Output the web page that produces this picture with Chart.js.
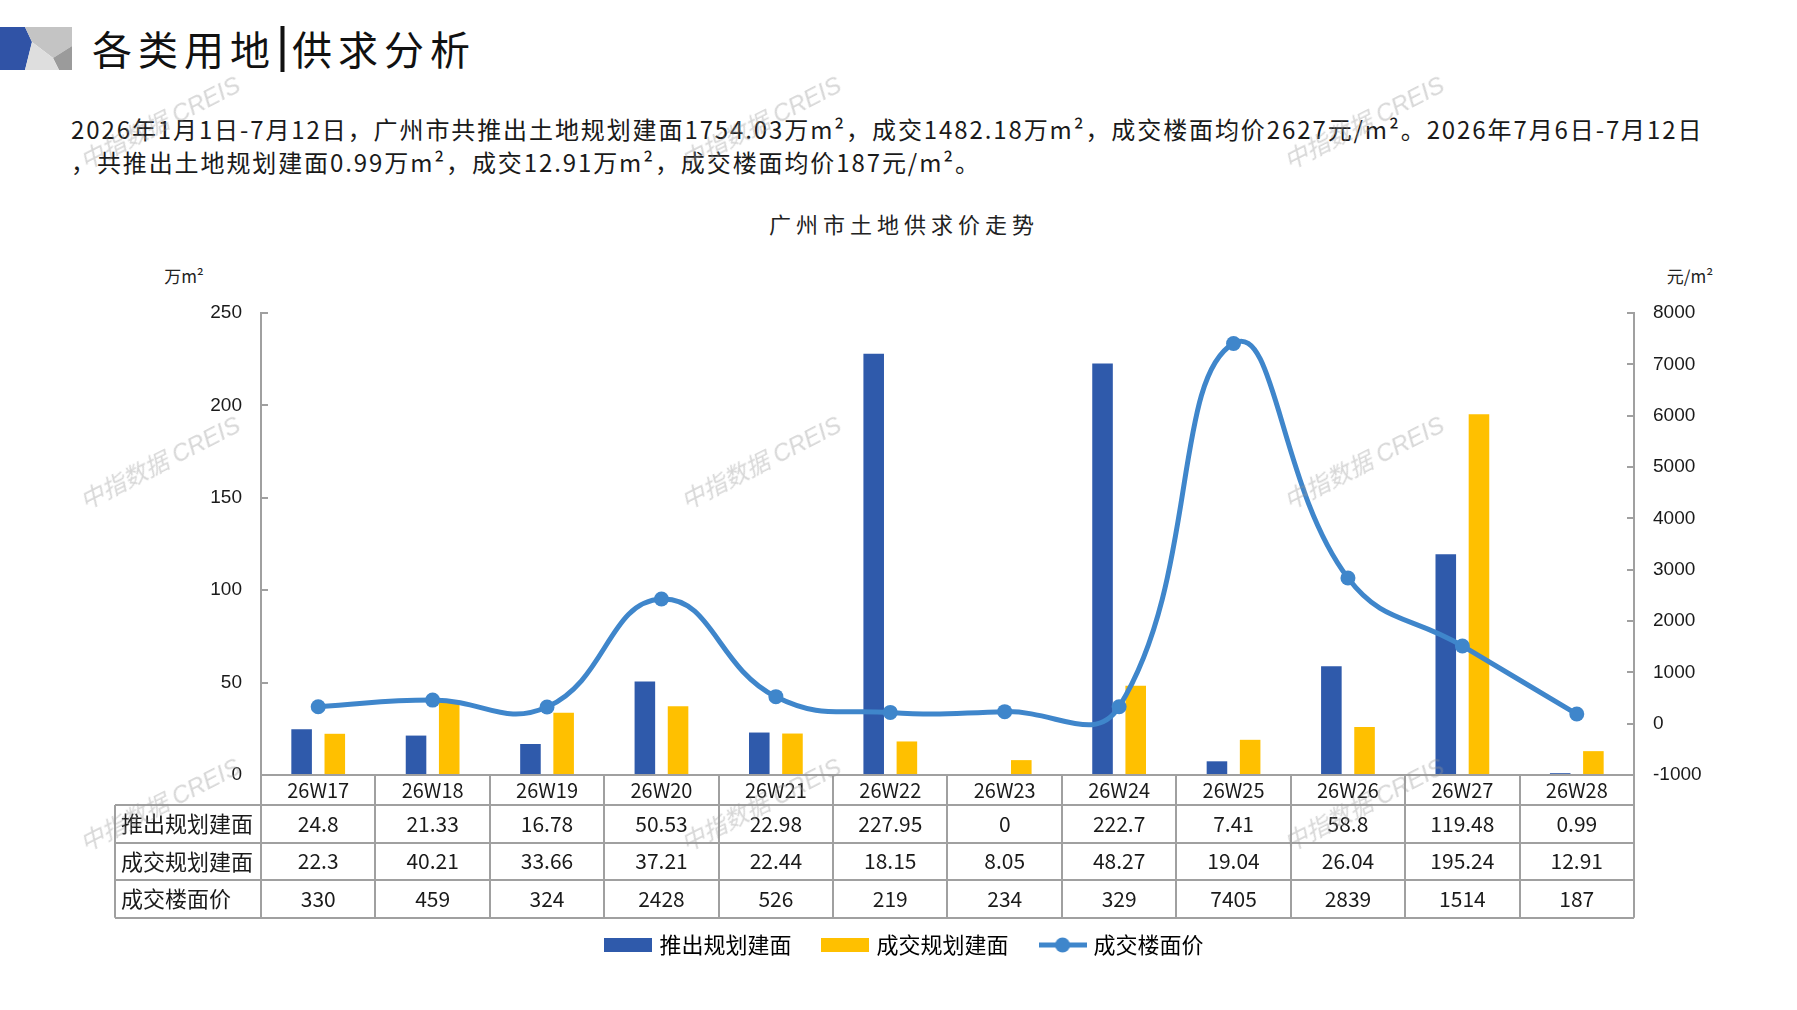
<!DOCTYPE html>
<html><head><meta charset="utf-8">
<script src="https://cdn.jsdelivr.net/npm/chart.js@4.4.1/dist/chart.umd.min.js"></script>
<style>
html,body{margin:0;padding:0;background:#fff;}
body{width:1797px;height:1010px;position:relative;overflow:hidden;font-family:'Noto Sans CJK SC',sans-serif;color:#1a1a1a;}
#c{position:absolute;left:0;top:0;}
.abs{position:absolute;white-space:nowrap;line-height:1;}
.sub{font-size:24px;letter-spacing:1.9px;color:#1a1a1a;}
.wm{position:absolute;white-space:nowrap;font-family:'Liberation Sans','Noto Sans CJK SC',sans-serif;font-size:24px;color:rgba(150,150,150,0.38);transform:translate(-50%,-50%) rotate(-27deg);pointer-events:none;font-style:italic;}
</style></head>
<body>
<svg class="abs" style="left:0;top:27px" width="72" height="43" viewBox="0 27 72 43">
  <polygon points="0,27 25,27 32,42 25,70 0,70" fill="#3053A6"/>
  <polygon points="25,27 72,27 72,46 53,58 32,42" fill="#C4C4C4"/>
  <polygon points="53,58 72,46 72,70 59,70" fill="#9B9B9B"/>
  <polygon points="32,42 53,58 59,70 25,70" fill="#DEDEDE"/>
</svg>
<div class="abs" style="left:92px;top:23px;font-size:40px;letter-spacing:6px;color:#111;">各类用地<span style="font-family:'Liberation Sans';font-size:50px;position:relative;top:-3px;letter-spacing:3px;">|</span>供求分析</div>
<div class="abs sub" style="left:71px;top:117px">2026年1月1日-7月12日，广州市共推出土地规划建面1754.03万m²，成交1482.18万m²，成交楼面均价2627元/m²。2026年7月6日-7月12日</div>
<div class="abs sub" style="left:71px;top:150px">，共推出土地规划建面0.99万m²，成交12.91万m²，成交楼面均价187元/m²。</div>
<div class="abs" style="left:904px;top:223px;transform:translate(-50%,-50%);font-size:22px;letter-spacing:5px;color:#222;">广州市土地供求价走势</div>
<div class="abs" style="left:184px;top:275px;transform:translate(-50%,-50%);font-size:17px;color:#222;">万m²</div>
<div class="abs" style="left:1690px;top:275px;transform:translate(-50%,-50%);font-size:17px;color:#222;">元/m²</div>
<canvas id="c" width="1797" height="1010"></canvas>
<div id="wms"></div>
<script>
// ---- data ----
const categories = ['26W17','26W18','26W19','26W20','26W21','26W22','26W23','26W24','26W25','26W26','26W27','26W28'];
const supplyArea = [24.8, 21.33, 16.78, 50.53, 22.98, 227.95, 0, 222.7, 7.41, 58.8, 119.48, 0.99];
const dealArea   = [22.3, 40.21, 33.66, 37.21, 22.44, 18.15, 8.05, 48.27, 19.04, 26.04, 195.24, 12.91];
const dealPrice  = [330, 459, 324, 2428, 526, 219, 234, 329, 7405, 2839, 1514, 187];
const leftTicks  = [0, 50, 100, 150, 200, 250];
const rightTicks = [-1000, 0, 1000, 2000, 3000, 4000, 5000, 6000, 7000, 8000];
const seriesNames = ['推出规划建面', '成交规划建面', '成交楼面价'];

const BLUE = '#2F5AAB', YELLOW = '#FFC000', LINE = '#3F86CB', GRID = '#A0A0A0';

// watermarks
const wmX = [159, 760, 1363], wmY = [121, 461, 803];
const wmBox = document.getElementById('wms');
wmY.forEach(y => wmX.forEach(x => {
  const d = document.createElement('div');
  d.className = 'wm'; d.style.left = x + 'px'; d.style.top = y + 'px';
  d.textContent = '中指数据 CREIS';
  wmBox.appendChild(d);
}));

function symBar(color) {
  const c = document.createElement('canvas'); c.width = 48; c.height = 14;
  const g = c.getContext('2d'); g.fillStyle = color; g.fillRect(0, 0, 48, 14); return c;
}
function symLine(color) {
  const c = document.createElement('canvas'); c.width = 48; c.height = 16;
  const g = c.getContext('2d'); g.strokeStyle = color; g.lineWidth = 5;
  g.beginPath(); g.moveTo(0, 8); g.lineTo(48, 8); g.stroke();
  g.fillStyle = color; g.beginPath(); g.arc(24, 8, 7.5, 0, Math.PI * 2); g.fill(); return c;
}
const legendSyms = [symBar(BLUE), symBar(YELLOW), symLine(LINE)];

const CJK = "'Noto Sans CJK SC', sans-serif";
const rows = [
  {label: seriesNames[0], values: supplyArea},
  {label: seriesNames[1], values: dealArea},
  {label: seriesNames[2], values: dealPrice},
];

const tablePlugin = {
  id: 'dataTable',
  afterDraw(chart) {
    const {ctx, chartArea: ca, scales: {x}} = chart;
    const half = (x.getPixelForValue(1) - x.getPixelForValue(0)) / 2;
    const tableLeft = 115;
    const r1 = ca.bottom + 30;          // bottom of category row
    const rh = 37.6;
    const bottoms = [r1, r1 + rh, r1 + 2 * rh, r1 + 3 * rh];
    const tb = bottoms[3];
    ctx.save();
    ctx.strokeStyle = GRID; ctx.lineWidth = 2;
    ctx.beginPath();
    for (let i = 0; i <= categories.length; i++) {
      const xb = Math.round((i < categories.length ? x.getPixelForValue(i) - half : x.getPixelForValue(categories.length - 1) + half));
      ctx.moveTo(xb, ca.bottom); ctx.lineTo(xb, tb);
    }
    ctx.moveTo(tableLeft, r1); ctx.lineTo(tableLeft, tb);
    bottoms.forEach(yb => { ctx.moveTo(tableLeft, Math.round(yb)); ctx.lineTo(ca.right, Math.round(yb)); });
    ctx.stroke();
    ctx.fillStyle = '#1a1a1a';
    ctx.textBaseline = 'middle';
    rows.forEach((row, ri) => {
      const yc = bottoms[ri] + rh / 2;
      ctx.font = '22px ' + CJK;
      ctx.textAlign = 'left';
      ctx.fillText(row.label, tableLeft + 6, yc);
      ctx.font = '21px ' + CJK;
      ctx.textAlign = 'center';
      row.values.forEach((v, i) => ctx.fillText(String(v), x.getPixelForValue(i), yc));
    });
    ctx.restore();
  }
};

new Chart(document.getElementById('c'), {
  data: {
    labels: categories,
    datasets: [
      {type: 'bar', label: seriesNames[0], data: supplyArea, backgroundColor: BLUE, yAxisID: 'y', order: 1,
       barPercentage: 0.62, categoryPercentage: 0.58},
      {type: 'bar', label: seriesNames[1], data: dealArea, backgroundColor: YELLOW, yAxisID: 'y', order: 1,
       barPercentage: 0.62, categoryPercentage: 0.58},
      {type: 'line', label: seriesNames[2], data: dealPrice, borderColor: LINE, backgroundColor: LINE, yAxisID: 'y1', order: 0,
       borderWidth: 5, pointRadius: 7.5, pointBackgroundColor: LINE, pointBorderWidth: 0, tension: 0.45, fill: false}
    ]
  },
  options: {
    responsive: false, animation: false, devicePixelRatio: 1,
    layout: {padding: {left: 15, right: 0, top: 313, bottom: 44}},
    plugins: {
      title: {display: false}, tooltip: {enabled: false},
      legend: {
        position: 'bottom',
        labels: {
          usePointStyle: true, pointStyleWidth: 40, padding: 34,
          font: {family: CJK, size: 22}, color: '#222',
          generateLabels: (chart) => chart.data.datasets.map((ds, i) => ({
            text: ds.label, pointStyle: legendSyms[i], datasetIndex: i, hidden: false,
            fillStyle: 'transparent', strokeStyle: 'transparent', lineWidth: 0
          }))
        }
      }
    },
    scales: {
      x: {
        grid: {drawOnChartArea: false, drawTicks: false},
        border: {display: true, color: GRID, width: 2},
        ticks: {font: {family: CJK, size: 20}, color: '#1a1a1a', padding: 3, maxRotation: 0, autoSkip: false},
        afterFit: s => { s.height = 125; }
      },
      y: {
        position: 'left', min: 0, max: 250,
        afterBuildTicks: s => { s.ticks = leftTicks.map(v => ({value: v})); },
        grid: {drawOnChartArea: false, drawTicks: true, tickLength: -7, color: GRID, lineWidth: 2},
        border: {display: true, color: GRID, width: 2},
        ticks: {font: {family: "'Liberation Sans', sans-serif", size: 19}, color: '#1a1a1a', padding: 26,
                callback: v => String(v)},
        afterFit: s => { s.width = 246; }
      },
      y1: {
        position: 'right', min: -1000, max: 8000,
        afterBuildTicks: s => { s.ticks = rightTicks.map(v => ({value: v})); },
        grid: {drawOnChartArea: false, drawTicks: true, tickLength: -7, color: GRID, lineWidth: 2},
        border: {display: true, color: GRID, width: 2},
        ticks: {font: {family: "'Liberation Sans', sans-serif", size: 19}, color: '#1a1a1a', padding: 26,
                callback: v => String(v)},
        afterFit: s => { s.width = 163; }
      }
    }
  },
  plugins: [tablePlugin]
});
</script>
</body></html>
